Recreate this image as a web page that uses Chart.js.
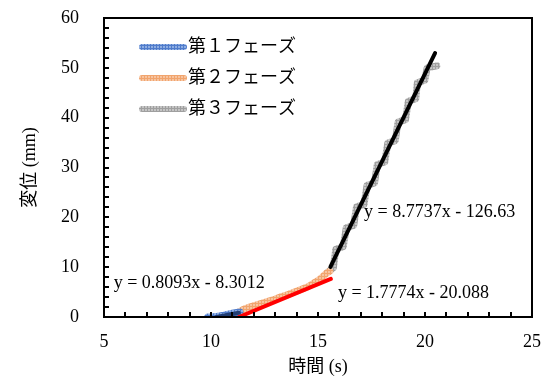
<!doctype html>
<html>

<head>
  <title>変位-時間</title>
  <script src="https://cdn.jsdelivr.net/npm/chart.js@4.4.1/dist/chart.umd.min.js"></script>
  <style>
    html, body {
      margin: 0;
      padding: 0;
      background: #fff;
    }
    .chart {
      width: 544px;
      height: 380px;
    }
  </style>
</head>

<body>
  <div class="chart">
    <canvas id="myChart"></canvas>
  </div>

  <script>
    // phase data (time s, displacement mm)
    var phase1X = [9.85, 10.0, 10.2, 10.4, 10.6, 10.8, 11.0, 11.2, 11.35];
    var phase1Y = [0.0, 0.02, 0.08, 0.2, 0.35, 0.55, 0.75, 0.9, 1.0];

    var phase2X = [11.3, 11.5, 11.8, 12.1, 12.4, 12.7, 13.0, 13.3, 13.6, 13.9, 14.2, 14.5, 14.8, 15.0, 15.2, 15.4, 15.55];
    var phase2Y = [1.0, 1.5, 2.0, 2.4, 2.8, 3.2, 3.6, 4.1, 4.5, 5.0, 5.5, 6.0, 6.8, 7.3, 8.0, 8.8, 9.2];

    var phase3X = [15.45, 15.72, 15.83, 16.18, 16.32, 16.67, 16.8, 17.15, 17.29, 17.64, 17.77, 18.12,
      18.26, 18.61, 18.74, 19.09, 19.22, 19.57, 19.64, 19.99, 20.1, 20.55];
    var phase3Y = [9.0, 9.9, 13.6, 14.1, 17.9, 18.4, 22.1, 22.6, 26.4, 26.9, 30.6, 31.1,
      34.9, 35.4, 39.1, 39.6, 43.3, 43.8, 47.0, 47.5, 50.0, 50.4];

    var phaseNames = ['第１フェーズ', '第２フェーズ', '第３フェーズ'];

    // linear trendlines as printed on the chart
    var trendSlope = [0.8093, 1.7774, 8.7737];
    var trendIntercept = [-8.3012, -20.088, -126.63];
    var trendFrom = [10.26, 11.3, 15.58];
    var trendTo = [11.3, 15.6, 20.47];
    var trendText = ['y = 0.8093x - 8.3012', 'y = 1.7774x - 20.088', 'y = 8.7737x - 126.63'];
    var trendTextX = [5.45, 15.93, 17.15];
    var trendTextY = [6.8, 4.8, 21.1];

    var FONT = "'Liberation Serif', 'Noto Sans CJK JP', serif";

    function makePattern(bg, fg) {
      var c = document.createElement('canvas');
      c.width = 3;
      c.height = 3;
      var g = c.getContext('2d');
      g.fillStyle = bg;
      g.fillRect(0, 0, 3, 3);
      g.fillStyle = fg;
      g.fillRect(0, 0, 3, 1);
      g.fillRect(0, 0, 1, 3);
      return g.createPattern(c, 'repeat');
    }

    function toPoints(xs, ys) {
      return xs.map(function(x, i) { return {x: x, y: ys[i]}; });
    }

    function trendPoints(i) {
      return [trendFrom[i], trendTo[i]].map(function(x) {
        return {x: x, y: trendSlope[i] * x + trendIntercept[i]};
      });
    }

    var dataColors = [
      makePattern('#8eaee2', '#4f7bcb'),
      makePattern('#f7c4a0', '#f1a46d'),
      makePattern('#c4c4c4', '#9f9f9f')
    ];
    var trendColors = ['#203d73', '#ff0000', '#000000'];

    function dataSet(i, xs, ys) {
      return {
        label: phaseNames[i],
        data: toPoints(xs, ys),
        borderColor: dataColors[i],
        borderWidth: 7,
        borderCapStyle: 'round',
        borderJoinStyle: 'round',
        pointRadius: 0,
        order: 2
      };
    }

    function trendSet(i) {
      return {
        label: 'trend' + (i + 1),
        data: trendPoints(i),
        borderColor: trendColors[i],
        borderWidth: 4,
        borderCapStyle: 'round',
        pointRadius: 0,
        order: 1
      };
    }

    // box frame + inward ticks
    var framePlugin = {
      id: 'frame',
      afterDraw: function(chart) {
        var ctx = chart.ctx;
        var a = chart.chartArea;
        var xs = chart.scales.x;
        var ys = chart.scales.y;
        ctx.save();
        ctx.strokeStyle = '#000';
        ctx.lineWidth = 2;
        ctx.strokeRect(a.left, a.top, a.right - a.left, a.bottom - a.top);
        ctx.beginPath();
        for (var v = 6; v < 25; v++) {
          var px = Math.round(xs.getPixelForValue(v));
          ctx.moveTo(px, a.bottom);
          ctx.lineTo(px, a.bottom - 5);
        }
        for (var w = 2; w < 60; w += 2) {
          var py = Math.round(ys.getPixelForValue(w));
          ctx.moveTo(a.left, py);
          ctx.lineTo(a.left + 5, py);
        }
        ctx.stroke();
        ctx.restore();
      }
    };

    // trendline equations
    var labelPlugin = {
      id: 'eqLabels',
      afterDatasetsDraw: function(chart) {
        var ctx = chart.ctx;
        ctx.save();
        ctx.font = '18px ' + FONT;
        ctx.fillStyle = '#000';
        ctx.textAlign = 'left';
        ctx.textBaseline = 'middle';
        for (var i = 0; i < trendText.length; i++) {
          ctx.fillText(trendText[i],
            chart.scales.x.getPixelForValue(trendTextX[i]),
            chart.scales.y.getPixelForValue(trendTextY[i]));
        }
        ctx.restore();
      }
    };

    // legend inside the plot, upper left
    var legendPlugin = {
      id: 'innerLegend',
      afterDraw: function(chart) {
        var ctx = chart.ctx;
        var a = chart.chartArea;
        ctx.save();
        ctx.font = '18px ' + FONT;
        ctx.textAlign = 'left';
        ctx.textBaseline = 'middle';
        for (var i = 0; i < 3; i++) {
          var y = a.top + 29 + i * 31;
          ctx.beginPath();
          ctx.lineWidth = 6;
          ctx.lineCap = 'round';
          ctx.strokeStyle = dataColors[i];
          ctx.moveTo(a.left + 38, y);
          ctx.lineTo(a.left + 80, y);
          ctx.stroke();
          ctx.fillStyle = '#000';
          ctx.fillText(chart.data.datasets[i].label, a.left + 84, y);
        }
        ctx.restore();
      }
    };

    var config = {
      type: 'line',
      data: {
        datasets: [
          dataSet(0, phase1X, phase1Y),
          dataSet(1, phase2X, phase2Y),
          dataSet(2, phase3X, phase3Y),
          trendSet(0),
          trendSet(1),
          trendSet(2)
        ]
      },
      options: {
        responsive: false,
        animation: false,
        layout: {
          padding: {top: 18, right: 12, left: 0, bottom: 0}
        },
        scales: {
          x: {
            type: 'linear',
            min: 5,
            max: 25,
            grid: {display: false},
            border: {display: false},
            ticks: {
              stepSize: 5,
              padding: 6,
              color: '#000',
              font: {family: FONT, size: 18}
            },
            title: {
              display: true,
              text: '時間 (s)',
              color: '#000',
              font: {family: FONT, size: 18},
              padding: {top: 0, bottom: 2}
            },
            afterFit: function(scale) {
              scale.height = 63;
              scale.paddingLeft = 0;
              scale.paddingRight = 0;
            }
          },
          y: {
            min: 0,
            max: 60,
            grid: {display: false},
            border: {display: false},
            ticks: {
              stepSize: 10,
              padding: 17,
              color: '#000',
              font: {family: FONT, size: 18}
            },
            title: {
              display: true,
              text: '変位 (mm)',
              color: '#000',
              font: {family: FONT, size: 18},
              padding: {top: 19, bottom: 0}
            },
            afterFit: function(scale) {
              scale.width = 104;
              scale.paddingTop = 0;
              scale.paddingBottom = 0;
            }
          }
        },
        plugins: {
          legend: {display: false},
          tooltip: {enabled: false}
        }
      },
      plugins: [framePlugin, labelPlugin, legendPlugin]
    };

    window.onload = function() {
      var canvas = document.getElementById('myChart');
      canvas.width = 544;
      canvas.height = 380;
      window.myChart = new Chart(canvas.getContext('2d'), config);
    };
  </script>
</body>

</html>
